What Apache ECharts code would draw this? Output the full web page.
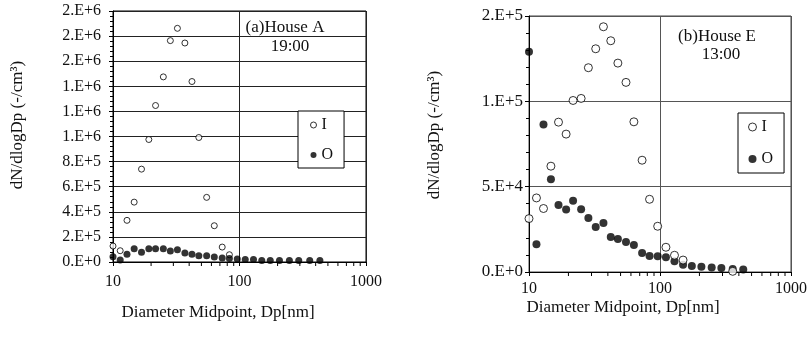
<!DOCTYPE html>
<html>
<head>
<meta charset="utf-8">
<script src="https://cdn.jsdelivr.net/npm/echarts@6/dist/echarts.min.js"></script>
<style>
  html, body { margin: 0; padding: 0; background: #fff; }
  #main { width: 810px; height: 337px; }
</style>
</head>
<body>
<div id="main"></div>
<script>
// diameter midpoints (nm), shared by both panels
var dp = [10, 11.4, 12.9, 14.7, 16.8, 19.2, 21.7, 25.0, 28.4, 32.3, 37.0, 42.1, 47.7, 55.0,
          63.2, 73.0, 83.2, 96.0, 111, 129, 150, 175, 207, 248, 294, 359, 432];

// (a) House A 19:00
var aIn = [127000, 90000, 332000, 477000, 740000, 976000, 1247000, 1475000, 1764000, 1862000,
           1745000, 1438000, 992000, 515000, 289000, 119000, 58000,
           null, null, null, null, null, null, null, null, null, null];
var aOut = [42000, 16000, 61000, 106000, 77000, 106000, 106000, 106000, 88000, 98000,
            72000, 61000, 50000, 50000, 40000, 32000, 27000, 24000, 19000, 19000,
            11000, 11000, 11000, 11000, 11000, 11000, 11000];

// (b) House E 13:00
var bIn = [31300, 43400, 37200, 62000, 87800, 80800, 100500, 101700, 119700, 130800,
           143700, 135500, 122400, 111100, 88000, 65500, 42600, 26800, 14500, 9800,
           7000, null, null, null, null, 400, null];
var bOut = [129100, 16200, 86400, 54400, 39300, 36600, 41700, 36800, 31700, 26400,
            28700, 20500, 19400, 17600, 15800, 11100, 9400, 9200, 8600, 6300,
            4300, 3500, 3100, 2700, 2300, 1800, 1400];

var aYLabels = ['0.E+0', '2.E+5', '4.E+5', '6.E+5', '8.E+5', '1.E+6', '1.E+6', '1.E+6', '2.E+6', '2.E+6', '2.E+6'];
var bYLabels = ['0.E+0', '5.E+4', '1.E+5', '2.E+5'];
var minorX = [20, 30, 40, 50, 60, 70, 80, 90, 200, 300, 400, 500, 600, 700, 800, 900];

function pairs(xs, ys) {
  var out = [];
  for (var i = 0; i < xs.length; i++) {
    if (ys[i] != null) out.push([xs[i], ys[i]]);
  }
  return out;
}

var FONT = 'Liberation Serif';
var txt = { color: '#111', fontFamily: FONT, fontSize: 16 };

var myChart = echarts.init(document.getElementById('main'));

function minorTickSeries(xi, yi) {
  return {
    type: 'custom',
    xAxisIndex: xi,
    yAxisIndex: yi,
    silent: true,
    clip: false,
    z: 5,
    data: minorX.map(function (v) { return [v, 0]; }),
    renderItem: function (params, api) {
      var p = api.coord([api.value(0), 0]);
      return {
        type: 'line',
        shape: { x1: p[0], y1: p[1], x2: p[0], y2: p[1] + 4 },
        style: { stroke: '#000', lineWidth: 1 }
      };
    }
  };
}

function label(t, x, y, rot) {
  return { type: 'text', x: x, y: y, z: 10, rotation: rot || 0,
           style: { text: t, fill: '#111', font: '17px ' + FONT, align: 'center', verticalAlign: 'middle' } };
}

var option = {
  animation: false,
  backgroundColor: '#fff',
  grid: [
    { left: 113, top: 11, width: 253, height: 251, show: true, borderColor: '#000', borderWidth: 1 },
    { left: 529, top: 16, width: 265, height: 256, show: true, borderColor: '#444', borderWidth: 1 }
  ],
  xAxis: [
    {
      gridIndex: 0, type: 'log', logBase: 10, min: 10, max: 1000,
      axisLine: { show: true, lineStyle: { color: '#000' } },
      axisTick: { show: true, length: 4, lineStyle: { color: '#000' } },
      axisLabel: { margin: 12, color: '#111', fontFamily: FONT, fontSize: 16,
                   formatter: function (v) { return String(Math.round(v)); } },
      splitLine: { show: true, lineStyle: { color: '#222', width: 1 } }
    },
    {
      gridIndex: 1, type: 'log', logBase: 10, min: 10, max: 1000,
      axisLine: { show: true, lineStyle: { color: '#000' } },
      axisTick: { show: true, length: 4, lineStyle: { color: '#000' } },
      axisLabel: { margin: 9, color: '#111', fontFamily: FONT, fontSize: 16,
                   formatter: function (v) { return String(Math.round(v)); } },
      splitLine: { show: true, lineStyle: { color: '#555', width: 1 } }
    }
  ],
  yAxis: [
    {
      gridIndex: 0, type: 'value', min: 0, max: 2000000, interval: 200000,
      axisLine: { show: true, lineStyle: { color: '#000' } },
      axisTick: { show: true, length: 4, lineStyle: { color: '#000' } },
      minorTick: { show: true, splitNumber: 5, length: 3, lineStyle: { color: '#000' } },
      axisLabel: { margin: 12, color: '#111', fontFamily: FONT, fontSize: 16,
                   formatter: function (v) { return aYLabels[Math.round(v / 200000)]; } },
      splitLine: { show: true, lineStyle: { color: '#222', width: 1 } }
    },
    {
      gridIndex: 1, type: 'value', min: 0, max: 150000, interval: 50000,
      axisLine: { show: true, lineStyle: { color: '#000' } },
      axisTick: { show: true, length: 4, lineStyle: { color: '#000' } },
      minorTick: { show: true, splitNumber: 5, length: 3, lineStyle: { color: '#000' } },
      axisLabel: { margin: 6, color: '#111', fontFamily: FONT, fontSize: 17,
                   formatter: function (v) { return bYLabels[Math.round(v / 50000)]; } },
      splitLine: { show: true, lineStyle: { color: '#555', width: 1 } }
    }
  ],
  legend: [
    {
      left: 298, top: 111, orient: 'vertical', itemGap: 14,
      padding: [6, 11, 5, 12], borderColor: '#000', borderWidth: 1, backgroundColor: '#fff',
      itemWidth: 6, itemHeight: 6, textStyle: txt, selectedMode: false,
      data: [
        { name: 'I', icon: 'circle', itemStyle: { color: '#fff', borderColor: '#000', borderWidth: 1 } },
        { name: 'O', icon: 'circle', itemStyle: { color: '#000', borderColor: '#000', borderWidth: 0 } }
      ]
    },
    {
      left: 738, top: 113, orient: 'vertical', itemGap: 16,
      padding: [6, 11, 6, 10], borderColor: '#000', borderWidth: 1, backgroundColor: '#fff',
      itemWidth: 8, itemHeight: 8, textStyle: txt, selectedMode: false,
      data: [
        { name: 'I', icon: 'circle', itemStyle: { color: '#fff', borderColor: '#000', borderWidth: 1 } },
        { name: 'O', icon: 'circle', itemStyle: { color: '#000', borderColor: '#000', borderWidth: 0 } }
      ]
    }
  ],
  graphic: [
    label('(a)House A', 285, 28),
    label('19:00', 290, 47),
    label('(b)House E', 717, 37),
    label('13:00', 721, 55),
    label('Diameter Midpoint, Dp[nm]', 218, 313),
    label('Diameter Midpoint, Dp[nm]', 623, 308),
    label('dN/dlogDp (-/cm³)', 18, 125, Math.PI / 2),
    label('dN/dlogDp (-/cm³)', 435, 135, Math.PI / 2)
  ],
  series: [
    {
      name: 'I', type: 'scatter', xAxisIndex: 0, yAxisIndex: 0, z: 2,
      symbol: 'circle', symbolSize: 6,
      itemStyle: { color: '#fff', borderColor: '#000', borderWidth: 1 },
      data: pairs(dp, aIn)
    },
    {
      name: 'O', type: 'scatter', xAxisIndex: 0, yAxisIndex: 0, z: 3,
      symbol: 'circle', symbolSize: 7,
      itemStyle: { color: '#000' },
      data: pairs(dp, aOut)
    },
    {
      name: 'O', type: 'scatter', xAxisIndex: 1, yAxisIndex: 1, z: 2,
      symbol: 'circle', symbolSize: 8,
      itemStyle: { color: '#000' },
      data: pairs(dp, bOut)
    },
    {
      name: 'I', type: 'scatter', xAxisIndex: 1, yAxisIndex: 1, z: 3,
      symbol: 'circle', symbolSize: 8,
      itemStyle: { color: '#fff', borderColor: '#000', borderWidth: 1 },
      data: pairs(dp, bIn)
    },
    minorTickSeries(0, 0),
    minorTickSeries(1, 1)
  ]
};

myChart.setOption(option);
window.addEventListener('resize', function () {
  myChart.resize();
});
</script>
</body>
</html>
